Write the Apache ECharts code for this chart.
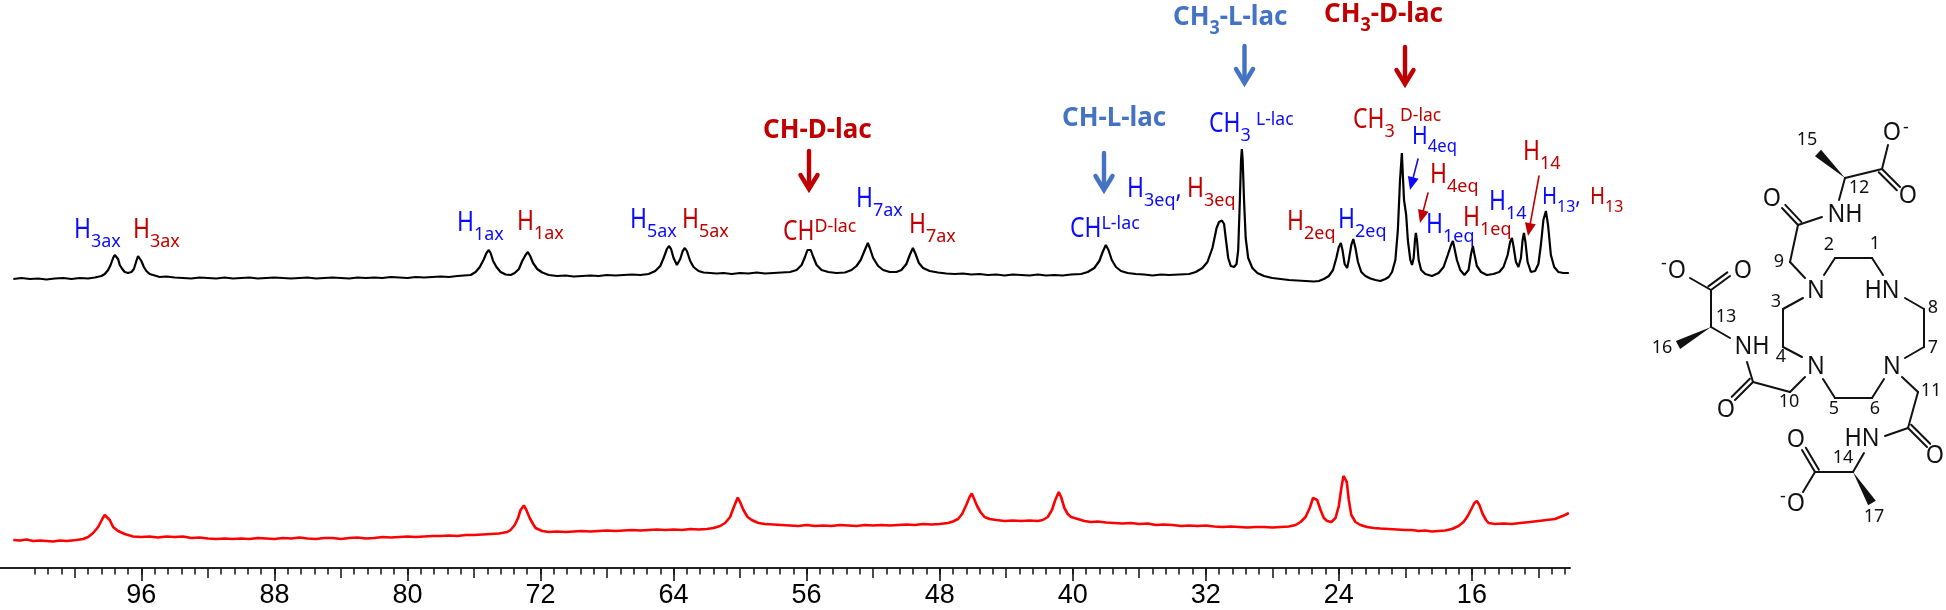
<!DOCTYPE html>
<html>
<head>
<meta charset="utf-8">
<style>
html, body { margin: 0; padding: 0; background: #fff; }
#chart { width: 1946px; height: 610px; }
</style>
<script src="https://cdn.jsdelivr.net/npm/echarts@6/dist/echarts.min.js"></script>
</head>
<body>
<div id="chart"></div>
<script>
// tick labels of the ppm axis
var majorTicks = [96, 88, 80, 72, 64, 56, 48, 40, 32, 24, 16];
var mediumTicks = [100, 92, 84, 76, 68, 60, 52, 44, 36, 28, 20, 12];
var minorTicks = [];
for (var t = 13; t <= 128; t++) minorTicks.push(t * 0.8);

// upper trace, black: [ppm, intensity]
var blackTrace = [
    [103.7,21],[103.2,22],[102.7,21],[102.2,21.5],[101.7,20.5],[101.2,21.5],[100.7,22],[100.2,21],[99.7,22],[99.2,21.5],
    [98.8,22.5],[98.4,24],[98.2,26],[98.0,30],[97.85,35],[97.7,42],[97.6,45],[97.54,46],[97.48,45],[97.4,41],[97.3,35],[97.15,31],[97.0,28],
    [96.8,27],[96.6,28],[96.45,31],[96.3,39],[96.2,44],[96.15,45],[96.08,44],[96.0,39],[95.85,33],[95.7,29],[95.5,26],[95.2,24.5],[94.9,23],[94.5,23.5],[94,22.5],
    [93.5,22],[93,21.5],[92.5,22.5],[92,22],[91.5,21.5],[91,22.5],[90.5,21.5],[90,22],[89.5,22.5],[89,21.5],[88.5,22],[88,22.5],[87.5,22],[87,21.5],
    [86.5,22],[86,22.5],[85.5,21.5],[85,22],[84.5,22.5],[84,22],[83.5,21.5],[83,22.5],[82.5,22],[82,22.5],[81.5,22],[81,23],[80.5,22.5],[80,22],
    [79.5,23],[79,22.5],[78.5,23],[78,23.5],[77.5,23],[77,24],[76.6,24.5],
    [76.2,25],[75.9,28],[75.65,33],[75.4,41],[75.25,47],[75.11,50],[75.0,47],[74.85,39],[74.65,33],[74.4,28],[74.1,25.5],[73.8,25],[73.55,27],[73.3,31],
    [73.1,39],[72.9,45],[72.76,48],[72.62,44],[72.45,37],[72.2,31],[71.9,27.5],[71.5,25],[71,24],[70.5,24.5],[70,23.5],[69.5,24],[69,24.5],[68.5,24],
    [68,25],[67.5,24.5],[67,25],[66.5,25.5],[66,25],[65.5,26],[65.1,29],[64.8,34],[64.6,42],[64.4,51],[64.28,54],[64.15,51],[64.0,42],[63.8,35],[63.6,41],
    [63.45,49],[63.32,52],[63.2,49],[63.0,39],[62.8,33],[62.5,29],[62.2,27.5],[61.8,27],[61.4,26.5],[61,27],[60.5,26],[60,27],[59.5,26.5],[59,27.5],
    [58.5,26.5],[58,27],[57.5,27.5],[57,28],[56.6,30],[56.3,35],[56.1,43],[55.95,50],[55.87,52],[55.75,50],[55.6,43],[55.4,35],[55.1,30],[54.7,28],[54.2,27],
    [53.7,27.5],[53.3,30],[53,34],[52.75,40],[52.5,50],[52.32,57],[52.2,52],[52.0,42],[51.7,34],[51.4,30],[51,28],[50.6,28],[50.3,30],[50,36],[49.8,45],
    [49.61,52],[49.45,46],[49.25,37],[49,32],[48.6,29],[48.1,27.5],[47.6,26.5],[47.1,26],[46.6,26.5],[46.1,25.5],[45.6,26],[45.1,25],[44.6,25.5],[44.1,24.5],
    [43.6,25.5],[43.1,25],[42.6,24.5],[42.1,25.5],[41.6,24.5],[41.1,25],[40.6,24.5],[40.1,25.5],[39.5,26],[39.1,28],[38.7,32],[38.4,39],[38.2,48],[38.01,55],
    [37.85,50],[37.65,40],[37.4,33],[37.1,29],[36.7,27],[36.2,26],[35.7,25.5],[35.2,24.5],[34.7,25.5],[34.2,25],[33.6,25.5],[33,26],[32.6,28],[32.2,32],
    [31.9,38],[31.6,52],[31.35,72],[31.2,78],[31.1,79],[31.03,79.5],[30.9,76],[30.8,62],[30.65,42],[30.5,34],[30.3,33],[30.15,36],[30.05,50],[29.95,100],
    [29.88,140],[29.83,151],[29.78,140],[29.7,100],[29.6,62],[29.45,42],[29.2,32],[28.9,27],[28.5,24],[28,22],[27.5,21],[27,20],[26.5,19.5],[26,19],
    [25.5,18.5],[25.2,19],[24.9,21],[24.6,24],[24.35,30],[24.15,42],[24,53],[23.88,57],[23.78,50],[23.65,36],[23.5,32],[23.4,40],[23.25,55],[23.13,61],
    [23.0,52],[22.85,38],[22.65,28],[22.4,24],[22.1,21.5],[21.8,20],[21.5,19],[21.2,21],[21,23],[20.8,28],[20.6,40],[20.45,70],[20.32,120],[20.21,147],
    [20.15,125],[20.08,100],[20.03,98],[19.95,85],[19.85,60],[19.7,40],[19.6,35],[19.5,42],[19.42,60],[19.37,67],[19.3,60],[19.2,40],[19.05,30],[18.8,26],
    [18.4,24],[18.0,27],[17.7,33],[17.45,45],[17.25,55],[17.14,59],[17.05,52],[16.9,40],[16.7,30],[16.45,25],[16.2,30],[16.05,46],[15.94,54],[15.85,46],
    [15.7,34],[15.45,28],[15.1,25],[14.7,26],[14.35,28],[14.1,33],[13.85,45],[13.7,58],[13.59,62],[13.5,54],[13.35,38],[13.2,33],[13.05,42],[12.95,60],
    [12.87,67],[12.78,58],[12.65,38],[12.45,28],[12.2,29],[12,36],[11.85,55],[11.7,80],[11.55,89],[11.42,75],[11.25,45],[11.05,33],[10.8,28],[10.5,27],[10.17,27]
];

// lower trace, red: [ppm, intensity]
var redTrace = [
    [103.7,20],[103.3,19.5],[102.9,20.5],[102.5,19],[102.1,19.5],[101.7,19],[101.3,18.5],[100.9,19.5],[100.5,19],[100.2,19.5],[99.9,20],[99.5,21],[99.2,23],
    [98.9,27],[98.6,33],[98.35,41],[98.2,45],[98.08,45.5],[97.9,40],[97.7,33],[97.4,29],[97,26],[96.5,23.5],[96,23],[95.5,23.5],[95,22.5],[94.5,23.5],[94,23],
    [93.5,23.5],[93,22],[92.5,22.5],[92,21.5],[91.5,21],[91,21.5],[90.5,21],[90,21.5],[89.5,21],[89,22],[88.5,21.5],[88,21],[87.5,22],[87,21.5],[86.5,22.5],
    [86,21.5],[85.5,21],[85,22],[84.5,22],[84,21],[83.5,22],[83,22.5],[82.5,21.5],[82,22],[81.5,23],[81,22.5],[80.5,23],[80,23.5],[79.5,23],[79,23.5],
    [78.5,24],[78,24],[77.5,24.5],[77,24],[76.5,25],[76,25],[75.5,25.5],[75,26],[74.5,26.5],[74,28],[73.8,30],[73.55,35],[73.35,42],[73.2,50],[73.0,54.5],
    [72.85,50],[72.65,42],[72.45,36],[72.3,32],[71.9,29],[71.5,28],[71,28.5],[70.5,28],[70,28.5],[69.5,29],[69,28.5],[68.5,29],[68,29.5],[67.5,29],[67,29.5],
    [66.5,30],[66,29.5],[65.5,30],[65,30.5],[64.5,30],[64,30.5],[63.5,30],[63,31],[62.5,30.5],[62,31],[61.6,32],[61.2,34],[60.9,37],[60.6,43],[60.4,52],
    [60.14,62.5],[60,58],[59.8,50],[59.55,43],[59.3,40],[58.9,37],[58.5,36],[58,35.5],[57.5,35],[57,34.5],[56.5,34],[56,35],[55.5,34],[55,34.5],[54.5,34],
    [54,35],[53.5,34.5],[53,34],[52.5,35],[52,34.5],[51.5,35],[51,34.5],[50.5,35],[50,35.5],[49.5,35],[49,36],[48.5,35.5],[48,36],[47.5,37],[47.2,38.5],
    [46.9,41],[46.65,46],[46.4,55],[46.2,63],[46.07,66.5],[45.95,62],[45.75,54],[45.55,48],[45.3,43],[45,41],[44.6,40],[44.1,39],[43.6,39.5],[43.1,39],
    [42.6,39.5],[42.1,39],[41.8,40],[41.5,43],[41.25,50],[41.05,60],[40.84,68],[40.7,63],[40.5,52],[40.3,46],[40.1,43],[39.7,41],[39.3,39],[38.9,38],[38.5,38.5],
    [38,37.5],[37.5,37],[37,36.5],[36.5,37],[36,36],[35.5,36.5],[35,35],[34.5,35.5],[34,35],[33.5,34],[33,34.5],[32.5,34],[32,34.5],[31.5,33.5],[31,33],
    [30.5,33.5],[30,33],[29.5,32.5],[29,33],[28.5,33],[28,32.5],[27.5,33],[27,33.5],[26.6,35],[26.3,38],[26,43],[25.75,52],[25.55,62],[25.44,64],[25.3,60],
    [25.1,50],[24.9,42],[24.7,39],[24.45,38],[24.2,42],[24,54],[23.85,72],[23.72,84],[23.63,85],[23.52,78],[23.4,60],[23.25,45],[23,38],[22.7,35],[22.3,33],
    [21.9,32],[21.5,31.5],[21,31],[20.5,30.5],[20,30],[19.6,30],[19.2,29],[18.8,29.5],[18.4,28.5],[18,29],[17.6,29.5],[17.2,31],[16.8,34],[16.5,38],
    [16.25,44],[16,52],[15.85,57],[15.7,59],[15.55,55],[15.35,46],[15.15,40],[15,37],[14.6,36],[14.1,36.5],[13.6,36],[13.1,37],[12.5,38],[12,39],[11.5,40],
    [11,41],[10.7,43],[10.4,45],[10.17,47]
];

var FONT = '"Noto Sans", sans-serif';
var BLUE = '#0a0aff';
var RED = '#c00000';
var BOLD_BLUE = '#4472c4';
var INK = '#111';

var graphics = [];
var ctx = document.createElement('canvas').getContext('2d');

function text(x, y, str, size, color, weight, align, sx) {
    graphics.push({
        type: 'text', z: 10, x: x, y: y, scaleX: sx || 1,
        style: {
            text: str, fill: color, fontFamily: FONT, fontSize: size,
            fontWeight: weight || 'normal', align: align || 'left', verticalAlign: 'middle'
        }
    });
}

// parts: n = normal, b = subscript, p = superscript
function label(x, y, color, size, parts, weight) {
    parts.forEach(function (p) {
        var s = size, dy = 0, sx = weight ? 0.96 : 0.85;
        if (p[1] === 'b') { s = size * 0.7; dy = size * 0.42; sx = 0.95; }
        if (p[1] === 'p') { s = size * 0.66; dy = -size * 0.2; sx = 1; }
        text(x, y + dy, p[0], s, color, weight, 'left', sx);
        ctx.font = (weight || 'normal') + ' ' + s + 'px "Noto Sans"';
        x += ctx.measureText(p[0]).width * sx;
    });
}

function line(x1, y1, x2, y2, color, width) {
    graphics.push({
        type: 'line', z: 9,
        shape: { x1: x1, y1: y1, x2: x2, y2: y2 },
        style: { stroke: color, lineWidth: width, lineCap: 'round' }
    });
}

function poly(points, color) {
    graphics.push({ type: 'polygon', z: 9, shape: { points: points }, style: { fill: color } });
}

function arrowDown(x, y1, y2, color) {
    line(x, y1, x, y2 - 4, color, 4.4);
    graphics.push({
        type: 'polyline', z: 9,
        shape: { points: [[x - 8.5, y2 - 17], [x, y2 - 3], [x + 8.5, y2 - 17]] },
        style: { stroke: color, fill: null, lineWidth: 4.4, lineCap: 'round', lineJoin: 'miter' }
    });
}

function thinArrow(x1, y1, x2, y2, color) {
    var a = Math.atan2(y2 - y1, x2 - x1), len = 13, w = 5.5;
    var bx = x2 - Math.cos(a) * len, by = y2 - Math.sin(a) * len;
    line(x1, y1, bx, by, color, 1.6);
    poly([[x2, y2], [bx - Math.sin(a) * w, by + Math.cos(a) * w], [bx + Math.sin(a) * w, by - Math.cos(a) * w]], color);
}

function bond(x1, y1, x2, y2) { line(x1, y1, x2, y2, INK, 2); }

function doubleBond(x1, y1, x2, y2, side) {
    var dx = x2 - x1, dy = y2 - y1, l = Math.sqrt(dx * dx + dy * dy);
    var ox = -dy / l * 4.5 * side, oy = dx / l * 4.5 * side;
    bond(x1, y1, x2, y2);
    bond(x1 + ox, y1 + oy, x2 + ox, y2 + oy);
}

function wedge(x1, y1, x2, y2) {
    var dx = x2 - x1, dy = y2 - y1, l = Math.sqrt(dx * dx + dy * dy);
    var ox = -dy / l * 4.5, oy = dx / l * 4.5;
    poly([[x1, y1], [x2 + ox, y2 + oy], [x2 - ox, y2 - oy]], INK);
}

// peak assignments
label(74, 230, BLUE, 27, [['H', 'n'], ['3ax', 'b']]);
label(133, 230, RED, 27, [['H', 'n'], ['3ax', 'b']]);
label(457, 223, BLUE, 27, [['H', 'n'], ['1ax', 'b']]);
label(517, 222, RED, 27, [['H', 'n'], ['1ax', 'b']]);
label(630, 220, BLUE, 27, [['H', 'n'], ['5ax', 'b']]);
label(682, 220, RED, 27, [['H', 'n'], ['5ax', 'b']]);
label(783, 232, RED, 27, [['CH', 'n'], ['D-lac', 'p']]);
label(856, 199, BLUE, 27, [['H', 'n'], ['7ax', 'b']]);
label(909, 225, RED, 27, [['H', 'n'], ['7ax', 'b']]);
label(1070, 229, BLUE, 27, [['CH', 'n'], ['L-lac', 'p']]);
label(1127, 189, BLUE, 27, [['H', 'n'], ['3eq', 'b'], [',', 'n']]);
label(1187, 189, RED, 27, [['H', 'n'], ['3eq', 'b']]);
label(1209, 124, BLUE, 27, [['CH', 'n'], ['3', 'b']]);
text(1256, 120, 'L-lac', 17.5, BLUE);
label(1353, 120, RED, 27, [['CH', 'n'], ['3', 'b']]);
text(1400, 116, 'D-lac', 17.5, RED);
label(1412, 137, BLUE, 25, [['H', 'n'], ['4eq', 'b']]);
label(1430, 175, RED, 27, [['H', 'n'], ['4eq', 'b']]);
label(1287, 222, RED, 27, [['H', 'n'], ['2eq', 'b']]);
label(1338, 220, BLUE, 27, [['H', 'n'], ['2eq', 'b']]);
label(1426, 225, BLUE, 27, [['H', 'n'], ['1eq', 'b']]);
label(1463, 218, RED, 27, [['H', 'n'], ['1eq', 'b']]);
label(1489, 202, BLUE, 27, [['H', 'n'], ['14', 'b']]);
label(1523, 152, RED, 27, [['H', 'n'], ['14', 'b']]);
label(1542, 197, BLUE, 24, [['H', 'n'], ['13', 'b'], [',', 'n']]);
label(1590, 197, RED, 24, [['H', 'n'], ['13', 'b']]);

// bold headings with their arrows
label(763, 130, RED, 27, [['CH-D-lac', 'n']], 'bold');
label(1062, 118, BOLD_BLUE, 27, [['CH-L-lac', 'n']], 'bold');
label(1173, 17, BOLD_BLUE, 27, [['CH', 'n'], ['3', 'b'], ['-L-lac', 'n']], 'bold');
label(1324, 14, RED, 27, [['CH', 'n'], ['3', 'b'], ['-D-lac', 'n']], 'bold');
arrowDown(809, 151, 192, RED);
arrowDown(1104, 153, 193, BOLD_BLUE);
arrowDown(1244.5, 46, 86, BOLD_BLUE);
arrowDown(1405, 47, 87, RED);
thinArrow(1418, 159, 1410, 190, BLUE);
thinArrow(1428, 193, 1420, 223, RED);
thinArrow(1539, 176, 1528, 236, RED);

// structure on the right
bond(1845, 178, 1882, 169); bond(1882, 169, 1888, 145); doubleBond(1882, 169, 1900, 187, 1);
wedge(1845, 178, 1818, 153);
bond(1845, 178, 1839, 200); bond(1822, 217, 1798, 225);
doubleBond(1798, 225, 1782, 208, 1);
bond(1798, 225, 1790, 262); bond(1790, 262, 1805, 278);
bond(1824, 275, 1835, 258); bond(1835, 258, 1872, 258); bond(1872, 258, 1883, 275);
bond(1905, 298, 1924, 309); bond(1924, 309, 1924, 347); bond(1924, 347, 1905, 358);
bond(1803, 298, 1783, 309); bond(1783, 309, 1783, 347); bond(1783, 347, 1802, 357);
bond(1711, 327, 1730, 338); bond(1711, 327, 1711, 290);
doubleBond(1711, 290, 1730, 276, -1); bond(1711, 290, 1690, 278);
wedge(1711, 327, 1678, 345);
bond(1747, 362, 1753, 382); doubleBond(1753, 382, 1735, 400, 1);
bond(1753, 382, 1790, 392); bond(1790, 392, 1805, 377);
bond(1823, 379, 1835, 398); bond(1835, 398, 1872, 398); bond(1872, 398, 1884, 379);
bond(1902, 377, 1918, 392); bond(1918, 392, 1908, 428);
doubleBond(1908, 428, 1927, 447, -1); bond(1908, 428, 1885, 436);
bond(1864, 453, 1853, 472); bond(1853, 472, 1815, 472);
doubleBond(1815, 472, 1802, 450, 1); bond(1815, 472, 1803, 492);
wedge(1853, 472, 1872, 503);

[[1892, 133, 'O'], [1908, 196, 'O'], [1845, 215, 'NH'], [1772, 199, 'O'], [1816, 291, 'N'], [1882, 291, 'HN'],
    [1752, 347, 'NH'], [1743, 271, 'O'], [1677, 271, 'O'], [1816, 367, 'N'], [1892, 367, 'N'], [1726, 410, 'O'],
    [1935, 456, 'O'], [1862, 439, 'HN'], [1796, 440, 'O'], [1796, 504, 'O']].forEach(function (a) {
        text(a[0], a[1], a[2], 26, INK, 'normal', 'center', 0.9);
    });
text(1906, 128, '-', 18, INK, 'normal', 'center');
text(1664, 264, '-', 18, INK, 'normal', 'center');
text(1783, 497, '-', 18, INK, 'normal', 'center');

[[1807, 140, '15'], [1859, 188, '12'], [1779, 262, '9'], [1829, 245, '2'], [1875, 244, '1'], [1933, 308, '8'],
    [1933, 348, '7'], [1776, 302, '3'], [1781, 357, '4'], [1726, 317, '13'], [1662, 348, '16'], [1789, 402, '10'],
    [1834, 409, '5'], [1875, 409, '6'], [1931, 391, '11'], [1843, 458, '14'], [1874, 517, '17']].forEach(function (a) {
        text(a[0], a[1], a[2], 18, INK, 'normal', 'center');
    });

var chart = echarts.init(document.getElementById('chart'));

function ppmAxis(grid, extra) {
    return Object.assign({
        type: 'value', gridIndex: grid, inverse: true, min: 10.1, max: 104.5,
        position: 'bottom', splitLine: { show: false }
    }, extra);
}

chart.setOption({
    animation: false,
    backgroundColor: '#fff',
    grid: [
        { left: 0, top: 100, width: 1570, height: 200 },
        { left: 0, top: 440, width: 1570, height: 128 }
    ],
    xAxis: [
        ppmAxis(0, { show: false }),
        ppmAxis(1, {
            axisLine: { show: true, onZero: false, lineStyle: { color: '#222', width: 2 } },
            axisTick: { show: true, customValues: majorTicks, length: 13, lineStyle: { color: '#111', width: 1.6 } },
            axisLabel: {
                show: true, customValues: majorTicks, margin: 14,
                color: '#000', fontFamily: '"Liberation Sans", Arial, sans-serif', fontSize: 27
            }
        }),
        ppmAxis(1, {
            axisLine: { show: false, onZero: false }, axisLabel: { show: false },
            axisTick: { show: true, customValues: mediumTicks, length: 10, lineStyle: { color: '#111', width: 1.5 } }
        }),
        ppmAxis(1, {
            axisLine: { show: false, onZero: false }, axisLabel: { show: false },
            axisTick: { show: true, customValues: minorTicks, length: 6.5, lineStyle: { color: '#111', width: 1.5 } }
        })
    ],
    yAxis: [
        { type: 'value', gridIndex: 0, min: 0, max: 200, show: false },
        { type: 'value', gridIndex: 1, min: -8, max: 120, show: false }
    ],
    series: [
        {
            type: 'line', xAxisIndex: 0, yAxisIndex: 0, data: blackTrace, showSymbol: false, silent: true,
            lineStyle: { color: '#000', width: 2.2 }
        },
        {
            type: 'line', xAxisIndex: 1, yAxisIndex: 1, data: redTrace, showSymbol: false, silent: true,
            lineStyle: { color: '#ff0000', width: 2.6 }
        }
    ],
    graphic: graphics
});
</script>
</body>
</html>
